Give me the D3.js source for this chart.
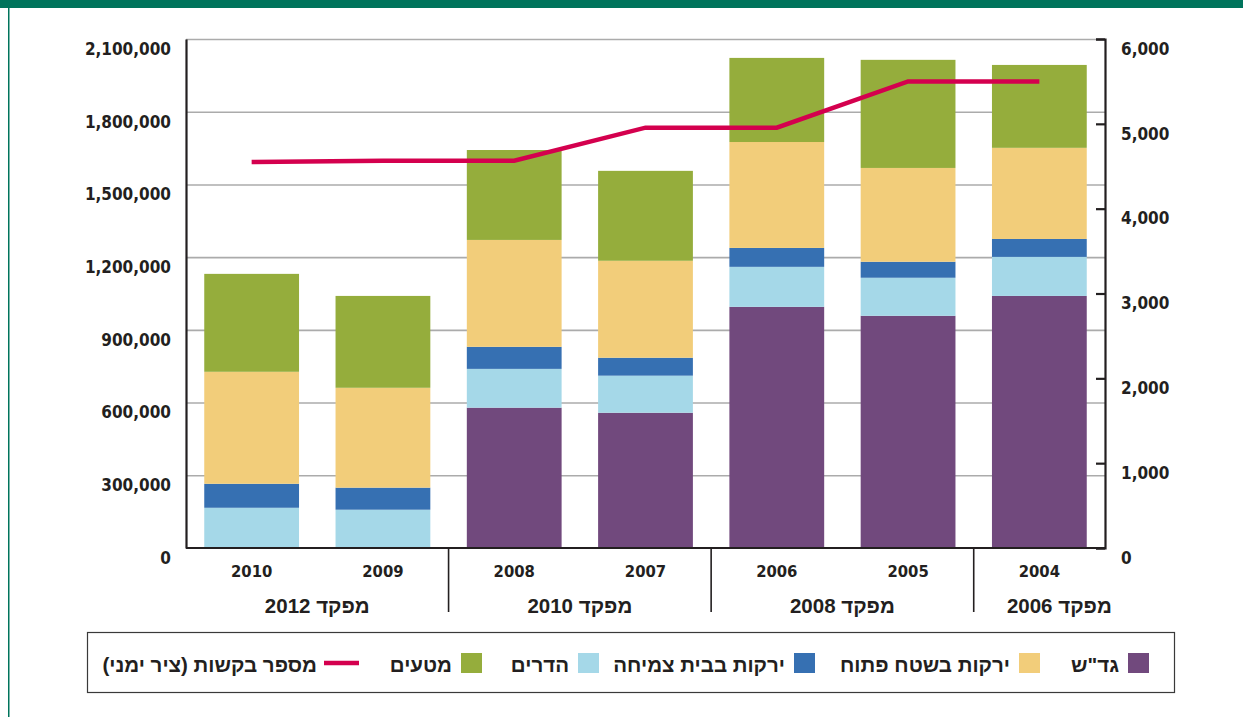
<!DOCTYPE html>
<html><head><meta charset="utf-8">
<script src="https://cdn.jsdelivr.net/npm/d3@7"></script>
<style>
html,body{margin:0;padding:0;background:#fff;}
svg text{font-family:"DejaVu Sans Condensed","DejaVu Sans",sans-serif;font-weight:bold;fill:#231f20;}
svg text.heb{font-family:"Liberation Sans",Arial,sans-serif;}
</style></head>
<body>
<svg id="chart" width="1243" height="717"></svg>
<script>
// ---- data ----
const years = ["2010","2009","2008","2007","2006","2005","2004"];
const censusLabels = ["מפקד 2012","מפקד 2010","מפקד 2008","מפקד 2006"];
const censusSizes = [2,2,2,1];
const fieldCrops    = [0, 0, 579000, 558000, 995000, 958000, 1040000];     // גד"ש
const citrus        = [166000, 158000, 160000, 153000, 165000, 157000, 161000]; // הדרים
const greenhouseVeg = [99000, 91000, 91000, 74000, 78000, 66000, 74000];   // ירקות בבית צמיחה
const openFieldVeg  = [462000, 412000, 441000, 400000, 437000, 387000, 376000]; // ירקות בשטח פתוח
const orchards      = [404000, 379000, 371000, 371000, 347000, 446000, 342000]; // מטעים
const requests      = [4550, 4565, 4565, 4955, 4955, 5500, 5500];          // מספר בקשות
const leftTicks  = [0,300000,600000,900000,1200000,1500000,1800000,2100000];
const rightTicks = [0,1000,2000,3000,4000,5000,6000];
const seriesNames = ['גד"ש','הדרים','ירקות בבית צמיחה','ירקות בשטח פתוח','מטעים'];
const seriesColors = ["#71497d","#a5d8e8","#3670b2","#f2cd7a","#95ad3c"];
const legendOrder = [0,3,2,1,4];
const lineName = "מספר בקשות (ציר ימני)";
const lineColor = "#d4004e";

// ---- layout ----
const svg = d3.select("#chart");
const L = 186, R = 1105, T = 39, B = 548;

svg.append("rect").attr("x",0).attr("y",0).attr("width",1243).attr("height",8).attr("fill","#00745c");
svg.append("rect").attr("x",8).attr("y",0).attr("width",1.5).attr("height",717).attr("fill","#00745c");

const x = d3.scaleBand().domain(years).range([L,R]).paddingInner(0.278).paddingOuter(0.139);
const y = d3.scaleLinear().domain([0,2100000]).range([B,T]);
const y2 = d3.scaleLinear().domain([0,6000]).range([B,T]);

// gridlines
const grid = svg.append("g").attr("transform",`translate(${L},0)`)
  .call(d3.axisLeft(y).tickValues(leftTicks.slice(1)).tickSize(-(R-L)).tickFormat(""));
grid.select(".domain").remove();
grid.selectAll("line").attr("stroke","#ababab").attr("stroke-width",1.6);

// stacked bars
const table = years.map((yr,i)=>({year:yr, s0:fieldCrops[i], s1:citrus[i], s2:greenhouseVeg[i], s3:openFieldVeg[i], s4:orchards[i]}));
const stack = d3.stack().keys(["s0","s1","s2","s3","s4"])(table);
svg.append("g").selectAll("g").data(stack).join("g")
  .attr("fill",(d,i)=>seriesColors[i])
  .selectAll("rect").data(d=>d).join("rect")
  .attr("x",d=>x(d.data.year)).attr("width",x.bandwidth())
  .attr("y",d=>y(d[1])).attr("height",d=>y(d[0])-y(d[1]));

// line
const line = d3.line().x((d,i)=>x(years[i])+x.bandwidth()/2).y(d=>y2(d));
svg.append("path").datum(requests).attr("d",line)
  .attr("fill","none").attr("stroke",lineColor).attr("stroke-width",4.5).attr("stroke-linejoin","miter");

// left axis
const la = svg.append("g").attr("transform",`translate(${L},0)`)
  .call(d3.axisLeft(y).tickValues(leftTicks).tickFormat(d3.format(",")).tickSize(0).tickPadding(15));
la.select(".domain").attr("stroke","#231f20").attr("stroke-width",2.2);
la.selectAll("text").attr("font-size",17).attr("dy","0.9em");

// right axis
const ra = svg.append("g").attr("transform",`translate(${R},0)`)
  .call(d3.axisRight(y2).tickValues(rightTicks).tickFormat(d3.format(",")).tickSize(-9).tickPadding(16));
ra.select(".domain").attr("stroke","#231f20").attr("stroke-width",2.2);
ra.selectAll("line").attr("stroke","#231f20").attr("stroke-width",2.2);
ra.selectAll("text").attr("font-size",17).attr("dy","0.9em");

// bottom axis
const ba = svg.append("g").attr("transform",`translate(0,${B})`)
  .call(d3.axisBottom(x).tickSize(0).tickPadding(17));
ba.select(".domain").attr("d",`M${L},0H${R}`).attr("stroke","#231f20").attr("stroke-width",2.2);
ba.selectAll("text").attr("font-size",16.5);

// census groups
const gap = x.step()*x.paddingInner();
let idx = 0;
censusLabels.forEach((lab,g)=>{
  const first = years[idx], last = years[idx+censusSizes[g]-1];
  const x0 = g===0 ? L : x(first)-gap/2;
  const x1 = g===censusLabels.length-1 ? R : x(last)+x.bandwidth()+gap/2;
  if(g>0){
    svg.append("line").attr("x1",x0).attr("x2",x0).attr("y1",B).attr("y2",612)
      .attr("stroke","#231f20").attr("stroke-width",1.6);
  }
  svg.append("text").attr("class","heb").attr("x",(x0+x1)/2 + (g===censusLabels.length-1?20:0)).attr("y",613)
    .attr("text-anchor","middle").attr("direction","rtl").attr("font-size",20.5).text(lab);
  idx += censusSizes[g];
});

// legend
svg.append("rect").attr("x",87.5).attr("y",632.5).attr("width",1087).attr("height",60)
  .attr("fill","none").attr("stroke","#3a3a3a").attr("stroke-width",1.2);
const squareRight = [1149,1040,815,599,482];
legendOrder.forEach((si,k)=>{
  const sx = squareRight[k]-21;
  svg.append("rect").attr("x",sx).attr("y",653).attr("width",21).attr("height",20).attr("fill",seriesColors[si]);
  svg.append("text").attr("class","heb").attr("x",sx-9).attr("y",672).attr("text-anchor","start").attr("direction","rtl")
    .attr("font-size",20.5).text(seriesNames[si]);
});
svg.append("line").attr("x1",324).attr("x2",359).attr("y1",663).attr("y2",663)
  .attr("stroke",lineColor).attr("stroke-width",4.5);
svg.append("text").attr("class","heb").attr("x",317).attr("y",672).attr("text-anchor","start").attr("direction","rtl")
  .attr("font-size",20.5).text(lineName);
</script>
</body></html>
